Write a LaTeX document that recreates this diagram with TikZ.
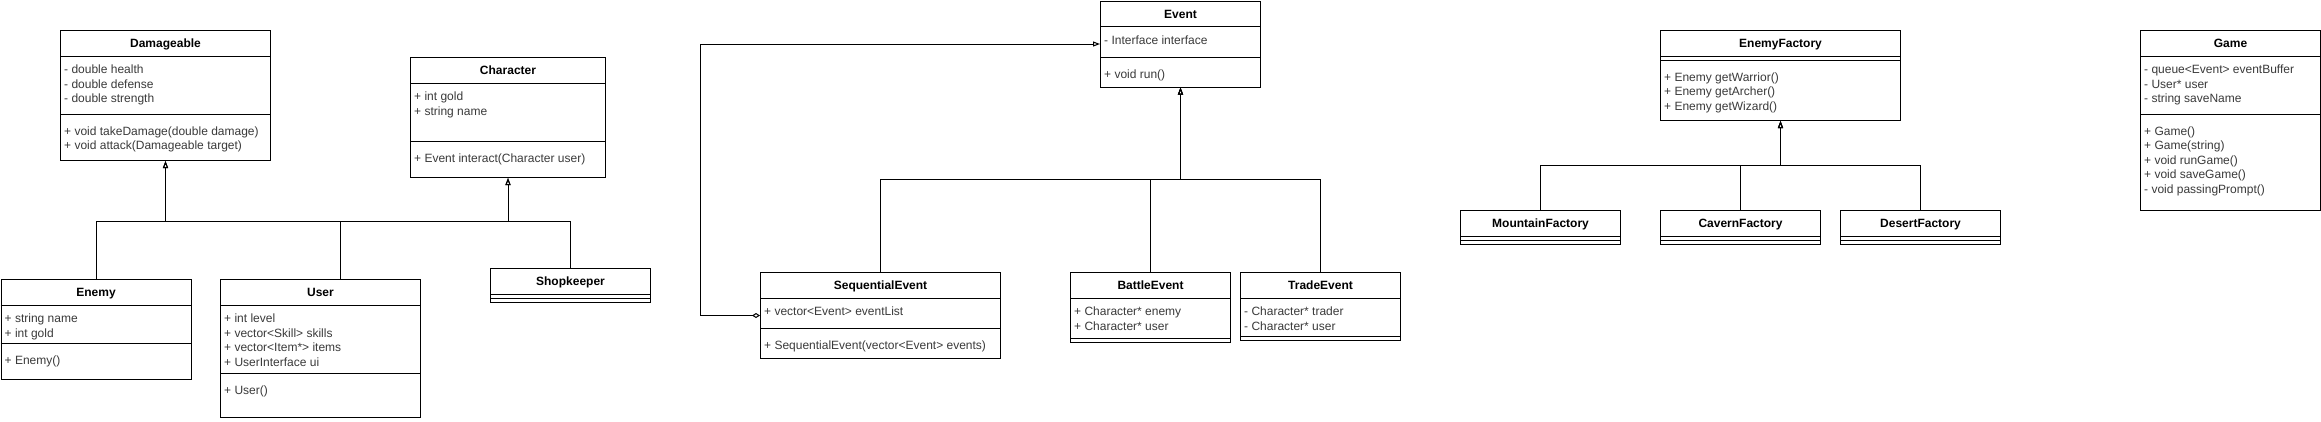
\documentclass[tikz,border=0pt]{standalone}
\usepackage{fontspec}
\setmainfont{Liberation Sans}
\usetikzlibrary{arrows.meta,calc}
\definecolor{Ink}{HTML}{000000}
\definecolor{Member}{HTML}{3A3A3A}
\tikzset{
  classbox/.style={draw=Ink, line width=1pt, fill=white, inner sep=0pt, anchor=north west},
  classname/.style={font=\fontsize{12}{14.5}\selectfont\bfseries, text=Ink, inner sep=0pt, anchor=base},
  member/.style={font=\fontsize{12}{14.5}\selectfont, text=Member, inner sep=0pt, anchor=base west},
  rule/.style={draw=Ink, line width=1pt},
  inherit/.style={draw=Ink, line width=1pt, -{Triangle[open, length=7pt, width=5pt]}},
  aggregate/.style={draw=Ink, line width=1pt,
    {Diamond[open, length=8pt, width=5pt]}-{Triangle[open, length=7pt, width=5pt]}}
}
% name, top left, width, height, title, divider offset, attributes, methods
\newcommand{\umlclass}[8]{%
  \node[classbox, minimum width=#3pt, minimum height=#4pt] (#1) at (#2) {};
  \node[classname] at ($(#1.north)+(0,17.5)$) {#5};
  \draw[rule] ($(#1.north west)+(0,26)$) -- ($(#1.north east)+(0,26)$);
  \draw[rule] ($(#1.north west)+(0,#6)$) -- ($(#1.north east)+(0,#6)$);
  \foreach \m [count=\i from 0] in {#7}
    \node[member] at ($(#1.north west)+(4,43.6+14.5*\i)$) {\m};
  \foreach \m [count=\i from 0] in {#8}
    \node[member] at ($(#1.north west)+(4,#6+21.3+14.5*\i)$) {\m};
}

\begin{document}
\begin{tikzpicture}[x=1pt, y=-1pt]
  \path[use as bounding box, fill=white] (0,0) rectangle (2321,421);

  \umlclass{dmg}{60,30}{210}{130}{Damageable}{84}
    {- double health, - double defense, - double strength}
    {+ void takeDamage(double damage), + void attack(Damageable target)}
  \umlclass{chr}{410,57}{195}{120}{Character}{84}
    {+ int gold, + string name}
    {+ Event interact(Character user)}
  \umlclass{enemy}{0.5,279}{190}{100}{Enemy}{64}
    {+ string name, + int gold}
    {+ Enemy()}
  \umlclass{user}{220,279}{200}{138}{User}{94}
    {+ int level, + vector<Skill> skills, + vector<Item*> items, + UserInterface ui}
    {+ User()}
  \umlclass{shop}{490,268}{160}{34}{Shopkeeper}{30}{}{}

  \umlclass{event}{1100,0.5}{160}{86}{Event}{57}
    {- Interface interface}
    {+ void run()}
  \umlclass{seq}{760,272}{240}{86}{SequentialEvent}{56}
    {+ vector<Event> eventList}
    {+ SequentialEvent(vector<Event> events)}
  \umlclass{battle}{1070,272}{160}{70}{BattleEvent}{66}
    {+ Character* enemy, + Character* user}{}
  \umlclass{trade}{1240,272}{160}{68}{TradeEvent}{64}
    {- Character* trader, - Character* user}{}

  \umlclass{efac}{1660,30}{240}{90}{EnemyFactory}{30}
    {}
    {+ Enemy getWarrior(), + Enemy getArcher(), + Enemy getWizard()}
  \umlclass{mountain}{1460,210}{160}{34}{MountainFactory}{30}{}{}
  \umlclass{cavern}{1660,210}{160}{34}{CavernFactory}{30}{}{}
  \umlclass{desert}{1840,210}{160}{34}{DesertFactory}{30}{}{}

  \umlclass{game}{2140,30}{180}{180}{Game}{84}
    {- queue<Event> eventBuffer, - User* user, - string saveName}
    {+ Game(), + Game(string), + void runGame(), + void saveGame(), - void passingPrompt()}

  \coordinate (busC) at (0,221);
  \coordinate (busE) at (0,179);
  \coordinate (busF) at (0,165);

  \draw[inherit] (enemy.north) |- (dmg.south |- busC) -- (dmg.south);
  \draw[inherit] ($(user.north)+(20,0)$) |- (dmg.south |- busC) -- (dmg.south);
  \draw[inherit] ($(user.north)+(20,0)$) |- (chr.south |- busC) -- (chr.south);
  \draw[inherit] (shop.north) |- (chr.south |- busC) -- (chr.south);

  \draw[inherit] (seq.north) |- (event.south |- busE) -- (event.south);
  \draw[inherit] (battle.north) |- (event.south |- busE) -- (event.south);
  \draw[inherit] (trade.north) |- (event.south |- busE) -- (event.south);
  \draw[aggregate] (seq.west) -- ++(-60,0) |- (event.west);

  \draw[inherit] (mountain.north) |- (efac.south |- busF) -- (efac.south);
  \draw[inherit] (cavern.north) |- (efac.south |- busF) -- (efac.south);
  \draw[inherit] (desert.north) |- (efac.south |- busF) -- (efac.south);
\end{tikzpicture}
\end{document}
